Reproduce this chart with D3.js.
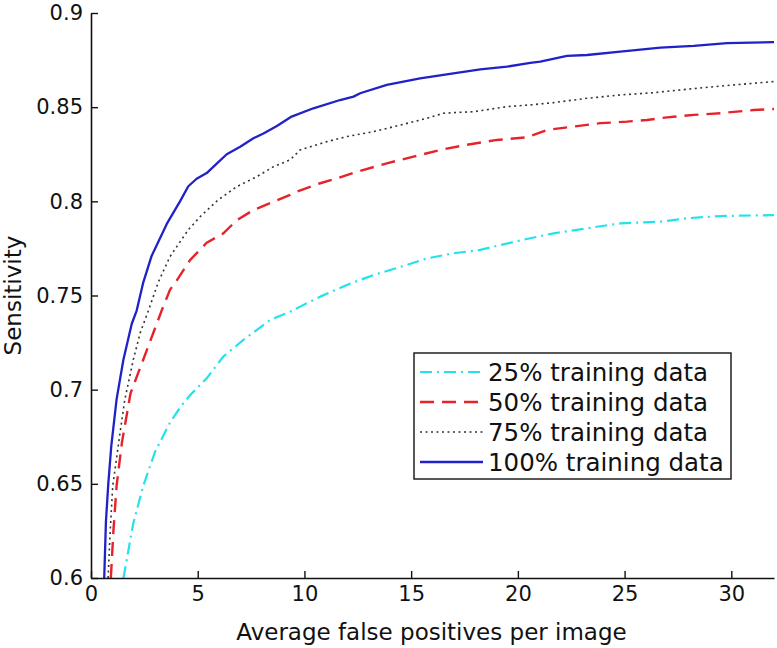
<!DOCTYPE html>
<html>
<head>
<meta charset="utf-8">
<script src="https://cdn.jsdelivr.net/npm/d3@7"></script>
<style>
  html, body { margin: 0; padding: 0; background: #fff; }
  svg { display: block; font-family: "DejaVu Sans", sans-serif; }
</style>
</head>
<body>
<svg id="chart" width="777" height="648"></svg>
<script>
// ---- Data ----
const seriesNames = ["25% training data", "50% training data", "75% training data", "100% training data"];

const x25 = [1.52,1.98,2.45,3.0,3.7,4.2,4.64,5.42,6.2,7.14,8.39,9.33,9.8,10.74,11.99,13.24,14.8,15.74,16.98,18.24,19.17,20.58,21.67,23.24,24.8,26.68,27.93,29.49,32];
const y25 = [0.6,0.629,0.649,0.667,0.6825,0.691,0.697,0.706,0.7176,0.7264,0.737,0.7414,0.7441,0.7494,0.7556,0.7609,0.7662,0.7697,0.7724,0.7742,0.7768,0.7804,0.783,0.7857,0.7883,0.7892,0.791,0.7922,0.7927];

const x50 = [0.93,1.05,1.2,1.45,1.85,2.45,3.08,3.31,3.7,4.02,4.64,5.42,6.2,6.83,7.61,8.39,9.33,9.64,10.74,11.52,12.46,13.86,15.11,16.36,17.61,19.02,20.42,21.36,22.61,23.86,25.11,26.05,26.99,28.24,29.49,31.05,32];
const y50 = [0.6,0.625,0.649,0.672,0.698,0.716,0.735,0.742,0.753,0.758,0.7688,0.778,0.783,0.79,0.7954,0.799,0.8034,0.8051,0.8096,0.8122,0.8157,0.8202,0.8237,0.8273,0.83,0.8326,0.834,0.8379,0.8397,0.8415,0.8423,0.8432,0.8446,0.8459,0.8468,0.8485,0.849];

const x75 = [0.8,0.9,1.02,1.36,1.58,1.98,2.3,2.69,3.15,3.7,4.55,5.11,5.95,6.83,7.77,8.55,9.33,9.8,11.05,11.99,13.24,14.49,15.74,16.52,17.93,19.49,20.58,21.67,23.24,24.8,26.36,27.93,29.49,32];
const y75 = [0.6,0.625,0.649,0.677,0.6945,0.7158,0.73,0.742,0.757,0.7706,0.7848,0.7918,0.8007,0.8078,0.8131,0.8184,0.822,0.8273,0.8317,0.8344,0.837,0.8405,0.8441,0.8468,0.8476,0.8503,0.8512,0.8524,0.8547,0.8565,0.8577,0.8595,0.8612,0.8636];

const x100 = [0.62,0.7,0.81,0.95,1.2,1.52,1.91,2.14,2.45,2.84,3.55,4.17,4.56,4.95,5.42,5.89,6.36,6.99,7.61,8.08,8.71,9.4,10.42,11.67,12.3,12.61,13.86,15.42,16.98,18.24,19.49,20.58,21.05,22.3,23.24,24.8,26.68,28.24,29.8,32];
const y100 = [0.6,0.63,0.65,0.67,0.695,0.716,0.735,0.742,0.757,0.771,0.788,0.8,0.808,0.812,0.815,0.82,0.825,0.829,0.8335,0.836,0.84,0.845,0.8494,0.8538,0.8556,0.8574,0.8618,0.8653,0.868,0.8701,0.8715,0.8735,0.8742,0.8772,0.8777,0.8795,0.8816,0.8825,0.884,0.8845];

const xTicks = [0, 5, 10, 15, 20, 25, 30];
const yTicks = [0.6, 0.65, 0.7, 0.75, 0.8, 0.85, 0.9];
const yTickLabels = ["0.6", "0.65", "0.7", "0.75", "0.8", "0.85", "0.9"];

// ---- Build series table ----
const series = [
  { name: seriesNames[0], xs: x25, ys: y25, color: "#22e3ec", width: 2.2, dash: "12,5,2,5" },
  { name: seriesNames[1], xs: x50, ys: y50, color: "#e5232a", width: 2.4, dash: "14,8" },
  { name: seriesNames[2], xs: x75, ys: y75, color: "#333333", width: 1.6, dash: "2,3.5" },
  { name: seriesNames[3], xs: x100, ys: y100, color: "#2121c8", width: 2.3, dash: null }
];

// ---- Layout ----
const svg = d3.select("#chart");
const mLeft = 91, mRight = 774, mTop = 13, mBottom = 578;

const x = d3.scaleLinear().domain([0, 32]).range([mLeft, mRight]);
const y = d3.scaleLinear().domain([0.6, 0.9]).range([mBottom, mTop]);

// Curves (clipped to plot area)
svg.append("clipPath").attr("id", "clip")
  .append("rect").attr("x", mLeft).attr("y", mTop).attr("width", mRight - mLeft).attr("height", mBottom - mTop);

const line = d3.line().x(d => x(d[0])).y(d => y(d[1]));

svg.append("g").attr("clip-path", "url(#clip)")
  .selectAll("path").data(series).join("path")
  .attr("d", s => line(s.xs.map((v, i) => [v, s.ys[i]])))
  .attr("fill", "none")
  .attr("stroke", s => s.color)
  .attr("stroke-width", s => s.width)
  .attr("stroke-dasharray", s => s.dash)
  .attr("stroke-linejoin", "round");

// Axes
const xAxis = d3.axisBottom(x).tickValues(xTicks).tickSizeInner(-7).tickSizeOuter(0).tickPadding(8).tickFormat(d3.format("d"));
const yAxis = d3.axisLeft(y).tickValues(yTicks).tickSizeInner(-7).tickSizeOuter(0).tickPadding(8)
  .tickFormat((d, i) => yTickLabels[i]);

const gx = svg.append("g").attr("transform", `translate(0,${mBottom})`).call(xAxis);
const gy = svg.append("g").attr("transform", `translate(${mLeft},0)`).call(yAxis);

[gx, gy].forEach(g => {
  g.select(".domain").attr("stroke", "#111").attr("stroke-width", 1.6);
  g.selectAll(".tick line").attr("stroke", "#111").attr("stroke-width", 1.4);
  g.selectAll(".tick text").attr("fill", "#111").style("font-size", "21px").style("font-family", "DejaVu Sans");
});

// Axis labels
svg.append("text").attr("x", (mLeft + mRight) / 2 - 1).attr("y", 640)
  .attr("text-anchor", "middle").style("font-size", "23px").attr("fill", "#111")
  .text("Average false positives per image");

svg.append("text").attr("transform", `translate(21,${(mTop + mBottom) / 2}) rotate(-90)`)
  .attr("text-anchor", "middle").style("font-size", "23px").attr("fill", "#111")
  .text("Sensitivity");

// Legend
const lg = svg.append("g");
lg.append("rect").attr("x", 414).attr("y", 353).attr("width", 317).attr("height", 126)
  .attr("fill", "#fff").attr("stroke", "#111").attr("stroke-width", 1.4);

const rows = lg.selectAll("g.row").data(series).join("g").attr("class", "row")
  .attr("transform", (d, i) => `translate(0,${372 + i * 30})`);
rows.append("line").attr("x1", 420).attr("x2", 483).attr("y1", 0).attr("y2", 0)
  .attr("stroke", d => d.color).attr("stroke-width", d => d.width).attr("stroke-dasharray", d => d.dash);
rows.append("text").attr("x", 488).attr("y", 9).style("font-size", "24.5px").attr("fill", "#111")
  .text(d => d.name);
</script>
</body>
</html>
